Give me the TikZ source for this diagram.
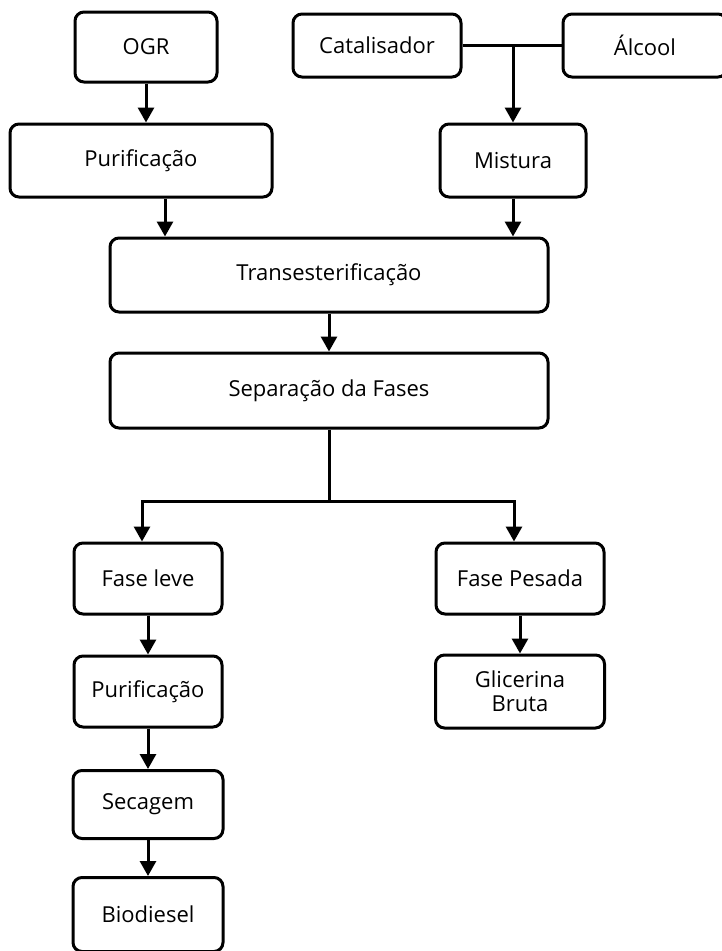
\documentclass[tikz,border=0pt]{standalone}
\usepackage{fontspec}
\setmainfont{Open Sans}
\usetikzlibrary{arrows.meta, positioning}

\tikzset{
  etapa/.style = {draw, rounded corners=9pt, line width=3pt, align=center, inner sep=0pt,
                  font=\fontsize{22}{24}\selectfont},
}

\begin{document}
\begin{tikzpicture} [x=1pt, y=-1pt, -{Triangle[width=16pt, length=15pt]}, line width=3pt, node distance=113pt]

\useasboundingbox (0,0) rectangle (722,951);

% entradas
\node [etapa, minimum width=142pt, minimum height=70pt] (ogr) at (146,47) {OGR};
\node [etapa, minimum width=168pt, minimum height=63pt] (catal) at (377,45.5) {Catalisador};
\node [etapa, minimum width=164pt, minimum height=63pt] (alcool) at (645,45.5) {Álcool};

\node [etapa, minimum width=262pt, minimum height=73pt] (purif) at (141,160.5) {Purificação};
\node [etapa, minimum width=146pt, minimum height=73pt] (mistura) at (513,160.5) {Mistura};

\node [etapa, minimum width=438pt, minimum height=74pt] (trans) at (329,275) {Transesterificação};
\node [etapa, minimum width=438pt, minimum height=75pt] (separa) at (329,390.5) {Separação da Fases};

% fases
\node [etapa, minimum width=148pt, minimum height=71pt] (leve) at (148,578.5) {Fase leve};
\node [etapa, minimum width=168pt, minimum height=71pt] (pesada) at (520,578.5) {Fase Pesada};

\node [etapa, minimum width=148pt, minimum height=71pt] (purif2) [below of = leve] {Purificação};
\node [etapa, minimum width=150pt, minimum height=68pt] (secagem) [below of = purif2] {Secagem};
\node [etapa, minimum width=150pt, minimum height=74pt] (biodiesel) [below of = secagem, node distance=110pt] {Biodiesel};
\node [etapa, minimum width=169pt, minimum height=73pt] (glicerina) [below of = pesada] {Glicerina\\Bruta};

\draw (ogr.south) -- (ogr.south |- purif.north);

\coordinate (juncao) at (mistura.north |- catal.east);
\draw [-] (catal.east) -- (alcool.west);
\draw (juncao) -- (mistura.north);

\draw ([xshift=24pt]purif.south) -- ([xshift=24pt]purif.south |- trans.north);
\draw (mistura.south) -- (mistura.south |- trans.north);

\path (trans) edge (separa);

\coordinate [below=72pt of separa.south] (ramo);
\draw [-] (separa.south) -- (ramo);
\draw (ramo) -| ([xshift=-6pt]leve.north);
\draw (ramo) -| ([xshift=-6pt]pesada.north);

\path (leve) edge (purif2);
\path (purif2) edge (secagem);
\path (secagem) edge (biodiesel);
\path (pesada) edge (glicerina);

\end{tikzpicture}
\end{document}
